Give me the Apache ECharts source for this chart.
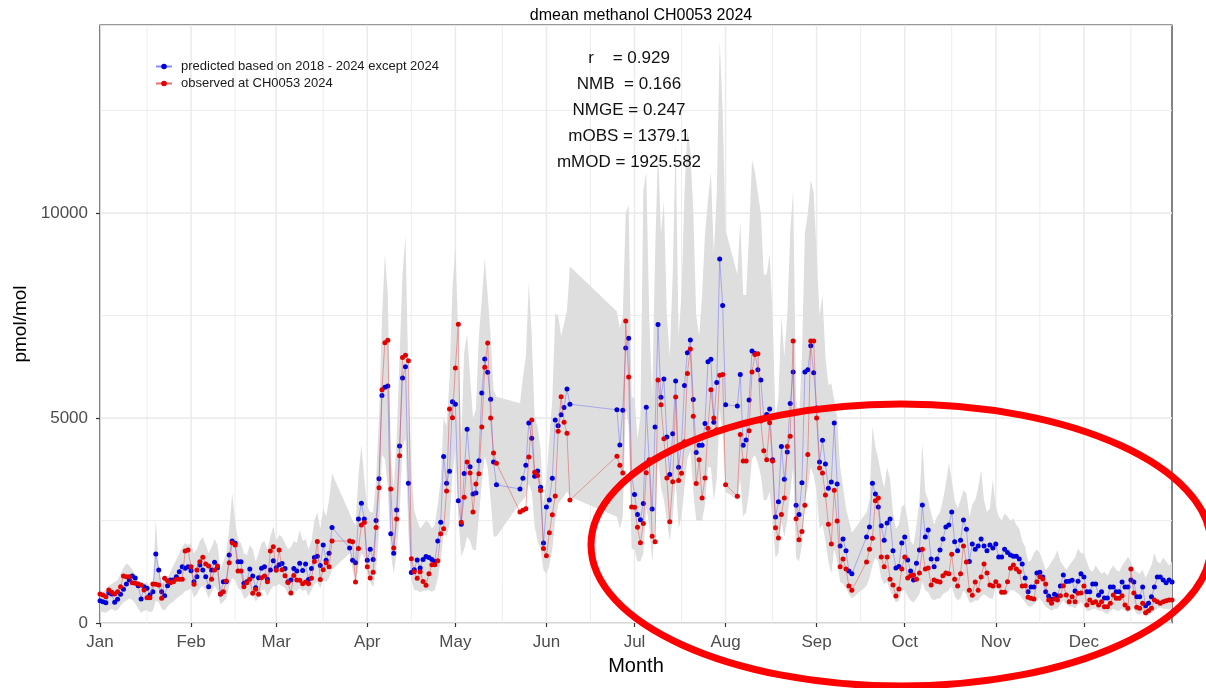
<!DOCTYPE html>
<html><head><meta charset="utf-8">
<script src="https://cdn.jsdelivr.net/npm/echarts@6/dist/echarts.min.js"></script>
<style>html,body{margin:0;padding:0;background:#fff}#c{width:1206px;height:688px}</style>
</head><body><div id="c"></div>
<script>
const _ = null;
const YEAR = 2024;
const titleText = 'dmean methanol CH0053 2024';
const seriesNames = ['predicted based on 2018 - 2024 except 2024', 'observed at CH0053 2024'];
const monthLabels = ['Jan','Feb','Mar','Apr','May','Jun','Jul','Aug','Sep','Oct','Nov','Dec'];
const monthDays = [31,29,31,30,31,30,31,31,30,31,30,31];
const yTicks = [0, 5000, 10000];
const statsLines = ['r    = 0.929', 'NMB  = 0.166', 'NMGE = 0.247', 'mOBS = 1379.1', 'mMOD = 1925.582'];

// predicted (blue), one line per month
const pred = [
 545,521,496,740,707,504,577,700,821,951,1049,1146,1100,911,585,886,846,683,764,1683,1293,764,667,911,1049,1049,1130,1252,1374,1333,1374,
 1276,1008,1130,1415,1293,1130,886,1293,1480,1350,707,1008,1008,1659,2000,1943,1496,1496,967,1008,1317,1146,862,1106,1333,1374,1065,1293,1520,
 1350,1420,1450,1330,1000,1050,1330,1270,1460,1280,1440,1060,1330,1600,1630,1400,1900,1530,1700,2330,_,_,_,_,_,1830,1530,1470,2540,2920,2540,
 1530,1800,1550,2500,3520,5550,5750,5780,2180,1700,2760,4320,5980,6250,3410,1230,1300,1540,1340,1550,1620,1600,1550,1500,2000,2460,4060,3410,3700,5400,
 5340,2980,2410,3650,4730,3810,3150,3170,3960,5610,6440,6120,5460,3930,3370,_,_,_,_,_,_,_,3270,3530,3850,4880,4510,3580,3710,3310,1950,
 2830,3000,3530,4950,4810,5080,5260,5710,5340,_,_,_,_,_,_,_,_,_,_,_,_,_,_,_,5200,4340,5190,6710,6950,3640,
 3137,2649,2517,2914,5266,3953,2782,4779,7285,5505,5956,4537,3625,4617,5902,3800,4361,5797,6595,6905,5451,4157,4334,4334,4866,6373,6435,4900,5868,8883,7746,
 5327,_,_,_,5292,6063,4334,4466,5441,6639,6578,6178,5929,4998,5087,5220,3980,2588,2958,4307,3510,4173,5354,6125,2871,2649,3419,6125,6178,6763,6107,
 5246,3930,4460,3880,3290,3440,4880,3390,1880,2050,1760,1270,1200,_,_,_,_,2100,2340,3410,3150,2830,2370,2020,2440,2540,1760,1340,1380,1950,
 2100,1540,1270,1050,1460,1780,2880,2100,2270,1560,1370,1560,1780,2050,2340,2390,2710,1980,1760,2020,2510,2290,1500,1930,1800,1880,2050,1880,1760,1900,1830,
 1930,1610,1610,1800,1720,1660,1630,1630,1560,1440,1100,760,880,880,1220,1240,1120,760,660,578,700,660,900,1170,1010,1020,1040,780,1020,1200,
 1120,760,760,950,950,680,760,610,610,880,880,760,760,1000,880,880,1050,1000,640,640,880,420,480,640,880,1120,1120,1050,980,1050,1000
];
// observed (red)
const obs = [
 707,683,642,805,748,707,764,886,1146,1130,1130,984,967,951,927,805,618,618,951,943,927,601,1089,1033,984,1008,1065,1065,1065,1756,1780,
 1374,943,1293,1496,1602,1439,1390,1065,1293,1390,707,764,1024,1472,1959,1902,1268,1268,886,984,1065,724,821,699,1106,1146,1008,1756,1862,
 1290,1780,1300,1150,990,730,1160,1050,1040,960,1000,960,1090,1500,1990,1060,1300,1470,1370,2000,_,_,_,_,_,2000,1980,1000,1820,2390,2450,
 1370,1100,1240,2330,3300,5690,6840,6900,3270,1830,2540,4080,6480,6530,6400,1570,1250,1090,1250,1010,920,1200,1420,1420,1520,2180,2300,3220,5220,5010,
 6220,7290,2460,3070,3930,3660,2710,3390,3640,4780,6240,6830,5000,4150,3900,_,_,_,_,_,_,_,2710,2750,2790,4050,4950,3680,3600,3230,1820,
 1640,2200,2640,3100,4680,5520,4900,4630,3000,_,_,_,_,_,_,_,_,_,_,_,_,_,_,_,4070,3850,3660,7370,6000,2830,
 2827,2339,1958,2427,3668,3980,2117,1985,5929,5327,4493,3536,2473,3447,5512,3474,3651,4422,6090,6683,5044,3402,3980,3049,3536,4751,5690,5000,4715,6045,6063,
 3375,_,_,_,3093,4600,3953,3953,4688,6125,6551,6568,4927,4200,3980,4883,3953,2322,2073,2649,3049,4307,4556,6878,2544,2029,2232,2871,4112,6878,6878,
 5000,3780,3660,3120,2410,1930,3240,2490,1370,1560,1320,900,800,_,_,_,_,1490,1800,2070,2980,3050,1610,1370,1610,1070,930,660,830,1320,
 1610,1100,1150,1170,1070,1220,1800,1320,1340,930,1050,1020,1000,1150,1220,1200,1680,1070,900,1200,1880,1490,800,680,1000,800,1120,1440,1220,930,900,
 1008,910,748,748,1008,1334,1415,1317,1252,902,910,626,602,585,1008,1130,1073,951,560,480,585,560,666,910,683,520,642,520,724,732,
 902,439,560,496,520,439,520,398,398,480,683,602,602,666,439,358,1317,732,382,358,480,252,301,358,560,520,480,520,545,560,560
];
// prediction band, upper edge
const bandHigh = [
 780,760,820,900,950,1000,1050,1200,1350,1450,1400,1300,1150,1000,900,950,1000,880,950,2540,1400,1000,950,1100,1250,1400,1550,1700,1850,1950,1900,
 1950,1700,1800,2000,2100,1900,1700,1850,2050,1900,1300,1500,1700,2300,3160,2500,2000,1950,1700,1650,1900,1800,1500,1700,1950,2000,1800,2100,2360,
 2000,2150,2100,1950,1800,1850,2000,1950,2270,2000,2050,1800,2000,2500,2700,2300,2800,2600,3000,3650,_,_,_,_,_,2680,2500,2400,3600,4340,3500,
 2840,2700,2700,3500,5000,7400,9000,8000,4000,3330,4500,6500,8500,9460,6000,3730,2750,2500,2300,2400,2500,2450,2300,2400,2900,3500,5000,4800,5930,8160,
 9200,7000,4500,6600,7060,6000,5000,5200,7000,7880,8900,8000,7000,5680,5520,_,_,_,_,_,_,_,5360,6000,6500,8300,7000,5000,4800,4230,2900,
 3500,4500,5440,7560,7500,7000,7300,7630,8700,_,_,_,_,_,_,_,_,_,_,_,_,_,_,_,7600,7200,7500,10000,10200,5500,
 5500,4500,5000,10560,11000,7500,5500,9000,11540,9500,10300,7500,6500,8500,11780,7000,8000,10500,12020,11500,10070,7500,7000,8000,9500,10300,11000,9000,10500,14200,12500,
 9590,_,_,_,8500,9800,8000,8000,9500,11300,11000,10500,10000,8500,8500,9000,7500,5000,5500,7500,6500,7500,9500,10560,5500,5000,6500,9500,10000,10800,10500,
 9000,7500,8000,6500,5800,5850,5440,5000,3810,3320,2800,2500,2200,_,_,_,_,2700,3000,4790,4300,4000,3600,3300,3800,3500,2680,2300,2400,2840,
 2900,2500,2000,1900,2400,3000,4380,3200,3000,2680,2400,2600,2700,3000,3400,3890,3500,3000,2800,3000,3240,3160,2600,2900,3000,3300,3730,3000,2700,2800,3500,
 2840,2600,2500,2670,2600,2500,2550,2400,2300,2000,1860,1500,1540,1700,1800,1700,1500,1300,1370,1500,1600,1780,1500,1400,1300,1400,1500,1600,1820,1700,
 1700,1500,1300,1250,1400,1300,1200,1250,1150,1300,1400,1300,1250,1400,1500,1620,1500,1300,1250,1200,1300,1100,1250,1400,1700,1500,1450,1600,1500,1400,1500
];
// prediction band, lower edge
const bandLow = [
 290,260,250,300,350,300,320,420,500,550,600,560,480,350,250,300,320,260,300,550,500,350,300,400,480,520,600,650,700,780,800,
 850,620,700,850,900,800,600,750,900,800,450,520,600,900,1100,1050,850,800,600,620,750,700,520,620,800,820,650,800,900,
 900,950,900,850,700,650,800,780,850,780,820,650,800,950,1000,850,1050,1000,1100,1300,_,_,_,_,_,1700,1300,1000,1400,1700,1600,
 1210,1000,880,1300,2200,4100,4000,3300,1700,1200,1700,2600,4300,4500,2200,1050,800,800,750,780,800,800,760,800,1100,1500,2200,2100,2400,3650,
 4220,2600,1620,1800,2110,2000,1780,1780,2600,3410,4060,3800,3000,2110,2110,_,_,_,_,_,_,_,2930,3000,3100,3400,3200,2350,2000,1800,1300,
 1200,1400,1800,2500,2900,3000,3100,3200,3080,_,_,_,_,_,_,_,_,_,_,_,_,_,_,_,2590,2300,2600,5200,4800,1800,
 1800,1500,1500,1700,2800,2400,1500,2300,4000,3300,3000,2500,2000,2600,3500,2300,2600,3300,4000,4200,3200,2500,2500,2500,2900,3800,3800,3000,3500,5200,4600,
 3200,_,_,_,3000,3500,2600,2700,3200,4000,4100,3900,3600,3000,3000,3200,2500,1600,1700,2500,2100,2500,3200,3800,1600,1500,1900,3000,3300,3800,3600,
 3200,2300,2400,2000,1500,1200,1800,1500,1000,950,850,700,600,_,_,_,_,900,1100,1400,1600,1500,1100,950,1000,800,650,500,550,800,
 800,650,550,500,600,700,1000,800,750,600,550,600,600,700,750,800,900,650,550,600,800,700,500,500,550,550,650,700,650,600,600,
 890,750,700,700,750,800,800,750,700,600,500,400,400,450,600,600,500,400,350,300,350,350,450,550,450,400,400,350,450,500,
 450,280,300,350,350,300,300,250,220,300,350,300,300,350,300,250,400,350,220,200,250,150,180,250,300,350,380,350,350,330,350
];

// day categories
const days = [];
const starts = [];
for (let m = 0; m < 12; m++) {
  starts.push(days.length);
  for (let d = 1; d <= monthDays[m]; d++) {
    days.push(YEAR + '-' + String(m + 1).padStart(2, '0') + '-' + String(d).padStart(2, '0'));
  }
}
starts.push(days.length);
const monthStarts = starts.slice(0, 12);
const monthMids = [];
for (let m = 0; m < 12; m++) monthMids.push((starts[m] + starts[m + 1]) / 2);
const startSet = new Set(monthStarts);
const isStart = (i) => startSet.has(i);

const FONT = '"Liberation Sans", Arial, sans-serif';
const chart = echarts.init(document.getElementById('c'), null, { renderer: 'canvas' });

chart.setOption({
  animation: false,
  backgroundColor: '#ffffff',
  textStyle: { fontFamily: FONT },
  title: {
    text: titleText, left: 636, top: 3, textAlign: 'center',
    textStyle: { fontFamily: FONT, fontSize: 16, fontWeight: 'normal', color: '#000' }
  },
  legend: {
    orient: 'vertical', left: 150, top: 55, itemGap: 4,
    itemWidth: 16, itemHeight: 7,
    textStyle: { fontFamily: FONT, fontSize: 13, color: '#1a1a1a', padding: [0, 0, 0, 4] },
    data: seriesNames
  },
  grid: {
    left: 100, right: 34, top: 25, bottom: 65, show: true,
    borderColor: '#333333', borderWidth: 1.2, backgroundColor: '#ffffff'
  },
  xAxis: [{
    type: 'category', data: days, boundaryGap: false,
    axisLine: { show: false },
    axisTick: { show: true, interval: isStart, length: 4, lineStyle: { color: '#333', width: 1.2 } },
    axisLabel: {
      interval: isStart, margin: 11, fontSize: 17, color: '#4d4d4d', fontFamily: FONT,
      formatter: (v) => monthLabels[parseInt(v.slice(5, 7), 10) - 1]
    },
    splitLine: { show: false },
    name: 'Month', nameLocation: 'middle', nameGap: 33,
    nameTextStyle: { fontFamily: FONT, fontSize: 20, color: '#000' }
  }],
  yAxis: [{
    type: 'value', min: 0, max: 14590, interval: 2500,
    axisLine: { show: false }, axisTick: { show: false }, axisLabel: { show: false },
    splitLine: { show: true, lineStyle: { color: '#ebebeb', width: 0.9 } }
  }, {
    type: 'value', min: 0, max: 14590, interval: 5000, position: 'left',
    axisLine: { show: false },
    axisTick: { show: true, length: 4, customValues: yTicks, lineStyle: { color: '#333', width: 1.2 } },
    axisLabel: {
      margin: 12, fontSize: 17, color: '#4d4d4d', fontFamily: FONT, customValues: yTicks,
      formatter: (v) => (yTicks.indexOf(v) >= 0 ? String(v) : '')
    },
    splitLine: { show: true, lineStyle: { color: '#ebebeb', width: 1.6 } },
    name: 'pmol/mol', nameLocation: 'middle', nameGap: 70, nameRotate: 90,
    nameTextStyle: { fontFamily: FONT, fontSize: 19, color: '#000' }
  }],
  series: [{
    // vertical month grid lines (major at month starts, minor at mid-month)
    type: 'custom', name: 'xgrid', silent: true, xAxisIndex: 0, yAxisIndex: 0, z: 0, clip: true,
    data: [[0, 0]],
    encode: { x: 0, y: 1 },
    renderItem: function (params, api) {
      const cs = params.coordSys;
      const children = [];
      monthMids.forEach(function (d) {
        const x = api.coord([d, 0])[0];
        children.push({ type: 'line', shape: { x1: x, y1: cs.y, x2: x, y2: cs.y + cs.height }, style: { stroke: '#ebebeb', lineWidth: 0.9 } });
      });
      monthStarts.forEach(function (d) {
        const x = api.coord([d, 0])[0];
        children.push({ type: 'line', shape: { x1: x, y1: cs.y, x2: x, y2: cs.y + cs.height }, style: { stroke: '#ebebeb', lineWidth: 1.6 } });
      });
      return { type: 'group', children: children };
    }
  }, {
    type: 'custom', name: 'band', silent: true, xAxisIndex: 0, yAxisIndex: 0, z: 1, clip: true,
    data: [[0, 0]],
    encode: { x: 0, y: 1 },
    renderItem: function (params, api) {
      const top = [], bot = [];
      for (let i = 0; i < days.length; i++) {
        if (bandHigh[i] == null || bandLow[i] == null) continue;
        top.push(api.coord([i, bandHigh[i]]));
        bot.push(api.coord([i, bandLow[i]]));
      }
      return { type: 'polygon', shape: { points: top.concat(bot.reverse()) }, style: { fill: '#dedede' } };
    }
  }, {
    type: 'line', name: seriesNames[0], data: pred, xAxisIndex: 0, yAxisIndex: 0, z: 3,
    connectNulls: true, showAllSymbol: true, symbol: 'circle', symbolSize: 5,
    itemStyle: { color: '#0000dd' },
    lineStyle: { color: 'rgba(90,90,255,0.7)', width: 0.6 }
  }, {
    type: 'line', name: seriesNames[1], data: obs, xAxisIndex: 0, yAxisIndex: 0, z: 4,
    connectNulls: true, showAllSymbol: true, symbol: 'circle', symbolSize: 5,
    itemStyle: { color: '#e20000' },
    lineStyle: { color: 'rgba(230,60,60,0.75)', width: 0.6 }
  }],
  graphic: [{
    type: 'text', x: 629, y: 45, z: 50,
    style: {
      text: statsLines.join('\n'), textAlign: 'center', lineHeight: 26,
      font: '17px "Liberation Sans", Arial, sans-serif', fill: '#111'
    }
  }, {
    type: 'ellipse', z: 100, silent: true,
    shape: { cx: 901, cy: 545, rx: 310, ry: 141 },
    style: { fill: 'transparent', stroke: '#ff0000', lineWidth: 7 }
  }]
});
</script>
</body></html>
